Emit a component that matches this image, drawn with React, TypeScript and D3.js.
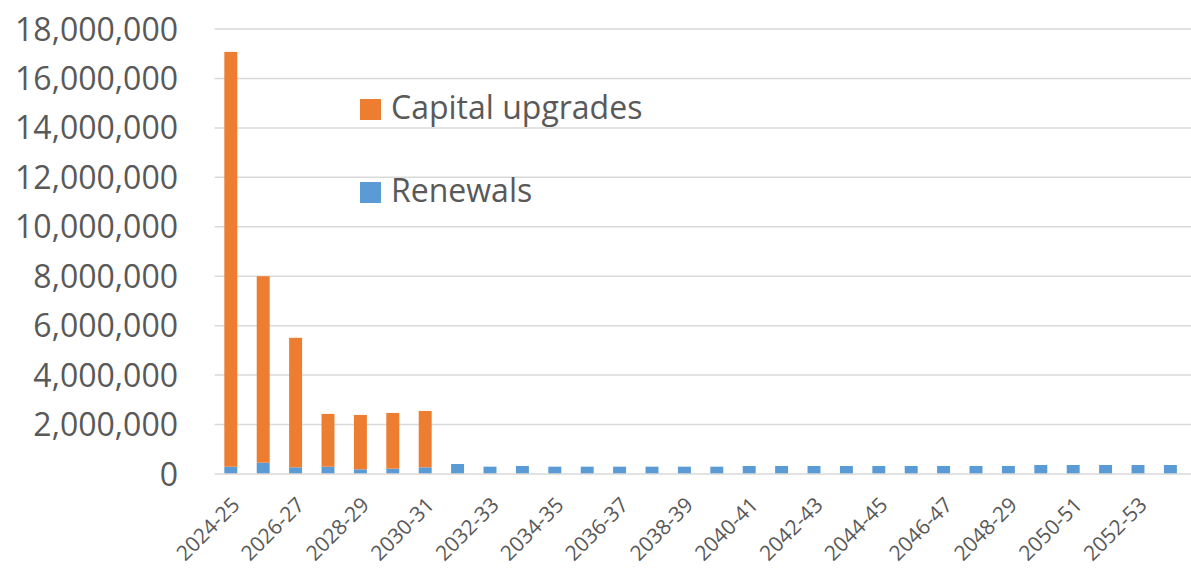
import React, { useEffect, useRef } from "react";
import * as d3 from "d3";

// financial years shown on the x axis (the "2048-29" label is as printed in the source)
const years = [
  "2024-25", "2025-26", "2026-27", "2027-28", "2028-29", "2029-30",
  "2030-31", "2031-32", "2032-33", "2033-34", "2034-35", "2035-36",
  "2036-37", "2037-38", "2038-39", "2039-40", "2040-41", "2041-42",
  "2042-43", "2043-44", "2044-45", "2045-46", "2046-47", "2047-48",
  "2048-29", "2049-50", "2050-51", "2051-52", "2052-53", "2053-54"
];

const renewals = [
  295000, 457000, 270000, 295000, 190000, 215000, 270000, 404000, 296000, 324000,
  296000, 296000, 296000, 296000, 296000, 296000, 324000, 324000, 324000, 324000,
  324000, 324000, 324000, 324000, 324000, 364000, 364000, 364000, 364000, 364000
];

const capitalUpgrades = [
  16780000, 7543000, 5240000, 2135000, 2200000, 2255000, 2280000, 0, 0, 0,
  0, 0, 0, 0, 0, 0, 0, 0, 0, 0,
  0, 0, 0, 0, 0, 0, 0, 0, 0, 0
];

const yTicks = [0, 2000000, 4000000, 6000000, 8000000, 10000000, 12000000, 14000000, 16000000, 18000000];

const keys = ["renewals", "capital"];
const colors: Record<string, string> = { renewals: "#5B9BD5", capital: "#ED7D31" };
const legendItems = [
  { key: "capital", label: "Capital upgrades" },
  { key: "renewals", label: "Renewals" }
];

const W = 1191;
const H = 571;
const FONT = "'Open Sans', sans-serif";

function App() {
  // eslint-disable-next-line @typescript-eslint/no-explicit-any
  const svgRef: any = useRef();

  useEffect(() => {
    const svg = d3.select(svgRef.current);
    svg.selectAll("*").remove();

    const left = 214.6;
    const right = 1186.6;
    const top = 29;
    const bottom = 474;

    const data = years.map((y, i) => ({ year: y, renewals: renewals[i], capital: capitalUpgrades[i] }));
    // eslint-disable-next-line @typescript-eslint/no-explicit-any
    const layers = d3.stack<any>().keys(keys)(data);

    const x = d3.scaleBand().domain(years).range([left, right]).paddingInner(0.6).paddingOuter(0.3);
    const y = d3.scaleLinear().domain([0, 18000000]).range([bottom, top]);

    // gridlines
    svg.append("g")
      .selectAll("line")
      .data(yTicks.filter(t => t > 0))
      .join("line")
      .attr("x1", left)
      .attr("x2", W)
      .attr("y1", d => y(d))
      .attr("y2", d => y(d))
      .attr("stroke", "#D9D9D9")
      .attr("stroke-width", 1.5);

    // y labels
    svg.append("g")
      .selectAll("text")
      .data(yTicks)
      .join("text")
      .attr("x", 178)
      .attr("y", d => y(d))
      .attr("dy", "0.36em")
      .attr("text-anchor", "end")
      .attr("font-family", FONT)
      .attr("font-size", 32)
      .attr("fill", "#595959")
      .text(d => d3.format(",")(d));

    // bars
    svg.append("g")
      .selectAll("g")
      .data(layers)
      .join("g")
      .attr("fill", d => colors[d.key])
      .selectAll("rect")
      .data(d => d)
      .join("rect")
      // eslint-disable-next-line @typescript-eslint/no-explicit-any
      .attr("x", (d: any) => x(d.data.year) as number)
      .attr("width", x.bandwidth())
      .attr("y", d => y(d[1]))
      .attr("height", d => Math.max(0, y(d[0]) - y(d[1])));

    // baseline
    svg.append("line")
      .attr("x1", left)
      .attr("x2", W)
      .attr("y1", bottom)
      .attr("y2", bottom)
      .attr("stroke", "#D9D9D9")
      .attr("stroke-width", 1.5);

    // x labels, every other year
    svg.append("g")
      .selectAll("text")
      .data(years.filter((_, i) => i % 2 === 0))
      .join("text")
      .attr("transform", d => `translate(${(x(d) as number) + x.bandwidth() / 2 + 5},${bottom + 27}) rotate(-45)`)
      .attr("text-anchor", "end")
      .attr("dy", "0.35em")
      .attr("font-family", FONT)
      .attr("font-size", 21)
      .attr("fill", "#595959")
      .text(d => d);

    // legend
    const legend = svg.append("g")
      .selectAll("g")
      .data(legendItems)
      .join("g")
      .attr("transform", (_, i) => `translate(360,${99 + i * 83})`);
    legend.append("rect")
      .attr("width", 21)
      .attr("height", 21)
      .attr("fill", d => colors[d.key]);
    legend.append("text")
      .attr("x", 31)
      .attr("y", 20)
      .attr("font-family", FONT)
      .attr("font-size", 32)
      .attr("fill", "#595959")
      .text(d => d.label);
  }, []);

  return (
    <div style={{ position: "absolute", left: 0, top: 0 }}>
      <svg ref={svgRef} width={W} height={H} style={{ display: "block", background: "#fff" }} />
    </div>
  );
}

export default App;
